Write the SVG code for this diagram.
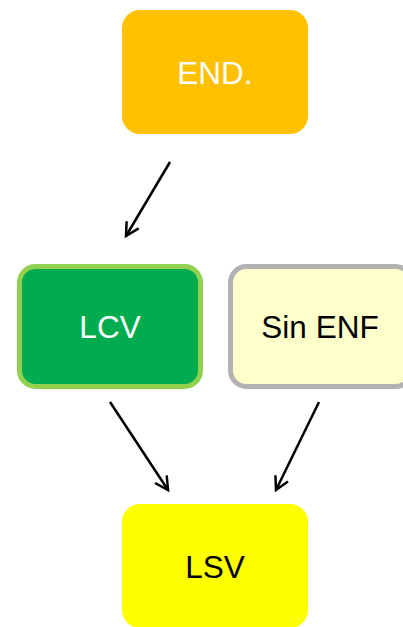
<svg xmlns="http://www.w3.org/2000/svg" width="403" height="627" viewBox="0 0 403 627">
<style>
text{font-family:"Liberation Sans",Arial,sans-serif;font-size:31.5px;text-anchor:middle;dominant-baseline:central}
.c{stroke:#000;stroke-width:2.5;fill:none;marker-end:url(#a)}
</style>
<defs>
<marker id="a" markerWidth="22" markerHeight="22" refX="14" refY="8" orient="auto" markerUnits="userSpaceOnUse" viewBox="0 0 22 16">
<path d="M1,1 L14,8 L1,15" fill="none" stroke="#000" stroke-width="2.5"/>
</marker>
</defs>
<g id="connectors">
<line class="c" x1="170" y1="162" x2="126" y2="236"/>
<line class="c" x1="110" y1="402" x2="168" y2="490"/>
<line class="c" x1="319" y1="402" x2="276" y2="490"/>
</g>
<g id="end">
<rect x="122" y="10" width="186" height="124" rx="18" fill="#FFC000"/>
<text x="215" y="73" fill="#fff">END.</text>
</g>
<g id="lcv">
<rect x="19.5" y="266.5" width="181" height="120" rx="16" fill="#00AC4E" stroke="#92D050" stroke-width="5"/>
<text x="110" y="327" fill="#fff">LCV</text>
</g>
<g id="sinenf">
<rect x="230.5" y="266.5" width="181" height="120" rx="16" fill="#FFFFCC" stroke="#B2B2B2" stroke-width="5"/>
<text x="320" y="327" fill="#000">Sin ENF</text>
</g>
<g id="lsv">
<rect x="122" y="504" width="186" height="124" rx="18" fill="#FFFF00"/>
<text x="215" y="567" fill="#000">LSV</text>
</g>
</svg>
